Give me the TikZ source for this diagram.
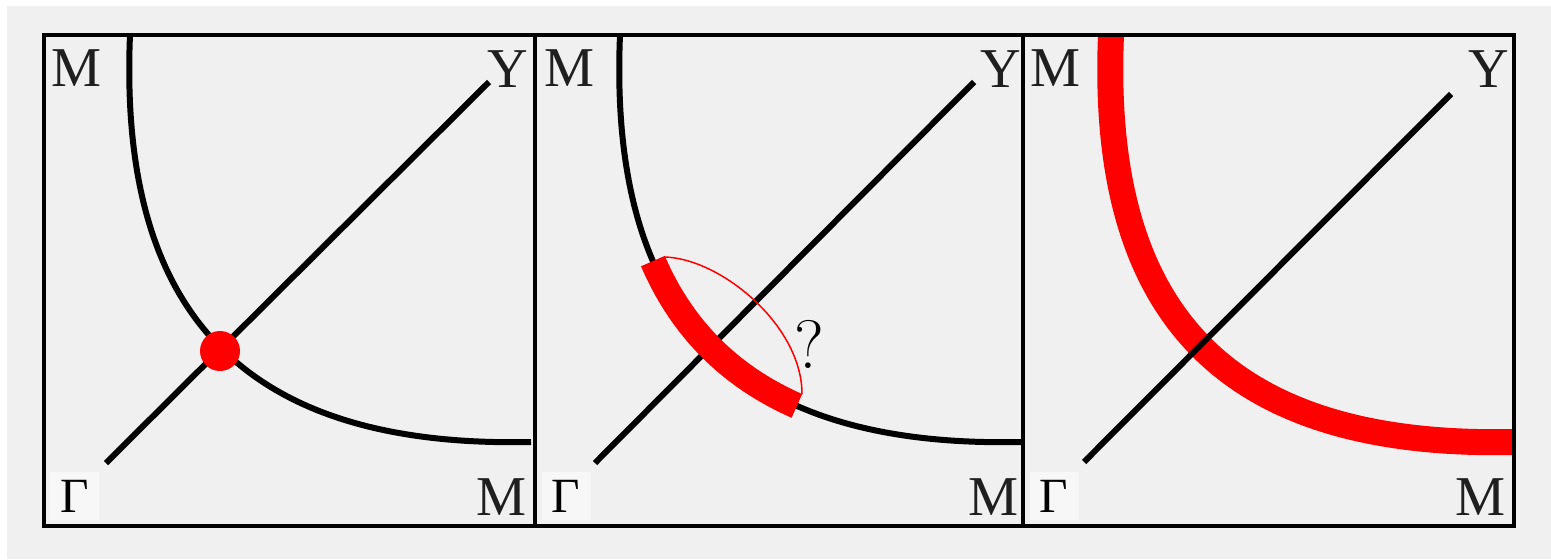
\documentclass[tikz,border=0pt]{standalone}
\usepackage{fontspec}
\newfontfamily\grfont{Liberation Serif}
\usetikzlibrary{positioning}
\definecolor{fondo}{HTML}{F0F0F0}
\definecolor{cajagamma}{HTML}{F7F7F7}
\tikzset{
  marco/.style={draw=black, line width=0.7mm},
  curva/.style={draw=black, line width=1.2mm},
  diagonal/.style={draw=black, line width=1.2mm},
  tramo/.style={draw=red, line width=5.2mm},
  arco/.style={draw=red, line width=0.3mm},
  punto/.style={circle, fill=red, inner sep=0pt, minimum size=8mm},
  etiqueta/.style={anchor=base, inner sep=0pt, text=black!88, font=\grfont\fontsize{32}{38}\selectfont},
  gamma/.style={fill=cajagamma, inner sep=0pt, minimum width=9.8mm, minimum height=9.6mm, font=\grfont\fontsize{28}{33}\selectfont},
  pregunta/.style={anchor=base, inner sep=0pt, font=\fontsize{39}{46}\selectfont},
}

\begin{document}
\begin{tikzpicture}[x=0.2mm, y=-0.2mm]
  \useasboundingbox (0,0) rectangle (1551,559);
  \fill[white] (0,0) rectangle (1551,559);
  \fill[fondo] (7,6) rectangle (1551,559);

  % panel 1
  \draw[curva] (130,35) .. controls (118,320) and (250,448) .. (531,442);
  \draw[diagonal] (106,463) -- (489,82);
  \node[punto] (eq) at (220,351) {};
  \node[etiqueta] (m1a) at (76,86) {M};
  \node[etiqueta] (y1) at (508,87) {Y};
  \node[gamma] (g1) at (74.5,496) {Γ};
  \node[etiqueta] (m1b) at (501.5,515) {M};

  % panel 2
  \draw[curva] (620,35) .. controls (608,320) and (740,448) .. (1021,442);
  \draw[diagonal] (595,463) -- (974,82);
  \draw[tramo] (652.9,261.1) .. controls (681.9,328.4) and (729.8,376.3) .. (796.9,405.9);
  \coordinate (arcoA) at (664,257);
  \coordinate (arcoB) at (802,394);
  \draw[arco] (arcoA) .. controls (720,258) and (802,325) .. (arcoB);
  \node[pregunta] (preg) at (809.5,368) {?};
  \node[etiqueta] (m2a) at (569.5,86) {M};
  \node[etiqueta] (y2) at (1000.5,87) {Y};
  \node[gamma] (g2) at (566,496) {Γ};
  \node[etiqueta] (m2b) at (993.5,515) {M};

  % panel 3
  \draw[tramo] (1111,35) .. controls (1099,320) and (1231,448) .. (1514,442);
  \draw[diagonal] (1084,462) -- (1451,94);
  \node[etiqueta] (m3a) at (1055.5,86) {M};
  \node[etiqueta] (y3) at (1488.5,87) {Y};
  \node[gamma] (g3) at (1054,496) {Γ};
  \node[etiqueta] (m3b) at (1480.5,515) {M};

  % marcos
  \draw[marco] (44,35) rectangle (535,526);
  \draw[marco] (535,35) rectangle (1023,526);
  \draw[marco] (1023,35) rectangle (1514,526);
\end{tikzpicture}
\end{document}
